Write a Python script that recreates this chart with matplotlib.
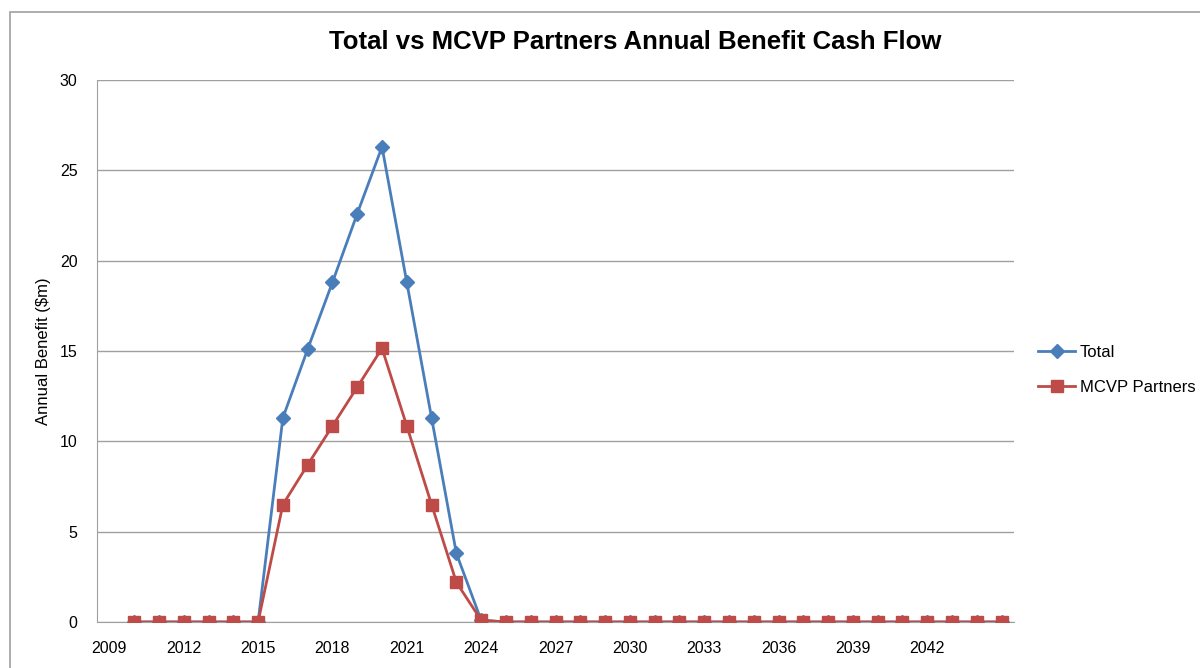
import numpy as np
import matplotlib
matplotlib.use("Agg")
import matplotlib.pyplot as plt
from matplotlib.patches import Rectangle

years = list(range(2009, 2046))
total = [np.nan, 0, 0, 0, 0, 0, 0, 11.3, 15.1, 18.8, 22.6, 26.3, 18.8, 11.3, 3.8, 0.1] + [0] * 21
mcvp = [np.nan, 0, 0, 0, 0, 0, 0, 6.5, 8.7, 10.85, 13.0, 15.15, 10.85, 6.5, 2.2, 0.1] + [0] * 21
tick_years = list(range(2009, 2043, 3))

plt.rcParams['font.family'] = ['Liberation Sans', 'DejaVu Sans']

fig = plt.figure(figsize=(12, 6.68), dpi=100)
ax = fig.add_axes([97 / 1200, 1 - 622 / 668, (1014 - 97) / 1200, (622 - 80) / 668])

x = np.arange(len(years))
ax.plot(x, total, color='#4A7EBB', lw=2.0, marker='D', ms=7.5, label='Total', zorder=3)
ax.plot(x, mcvp, color='#BE4B48', lw=2.0, marker='s', ms=9, label='MCVP Partners', zorder=4)

ax.set_xlim(-0.5, len(years) - 0.5)
ax.set_ylim(0, 30)
ax.set_yticks(range(0, 31, 5))
ax.set_xticks([years.index(y) for y in tick_years])
ax.set_xticklabels([str(y) for y in tick_years])
ax.tick_params(length=0, labelsize=11.5)
ax.tick_params(axis='x', pad=14)
ax.tick_params(axis='y', pad=14)
ax.grid(axis='y', color='#A0A0A0', lw=1)
ax.set_axisbelow(True)
for s in ['top', 'right']:
    ax.spines[s].set_visible(False)
for s in ['left', 'bottom']:
    ax.spines[s].set_color('#A0A0A0')
ax.set_ylabel('Annual Benefit ($m)', fontsize=12)
ax.yaxis.set_label_coords((51 - 97) / 917, 0.5)

fig.text(635 / 1200, 1 - 42 / 668, 'Total vs MCVP Partners Annual Benefit Cash Flow',
         ha='center', va='center', fontsize=18.5, fontweight='bold')

ax.legend(loc='center left', bbox_to_anchor=(1.01, 0.465), frameon=False, fontsize=12,
          handlelength=2.2, labelspacing=1.2, handletextpad=0.3)

# outer chart border
fig.patches.append(Rectangle((10 / 1200, -0.1), 1.2, 1 - 12 / 668 + 0.1, transform=fig.transFigure,
                             fill=False, edgecolor='#A0A0A0', lw=1.2))

fig.savefig('out.png', dpi=100)
